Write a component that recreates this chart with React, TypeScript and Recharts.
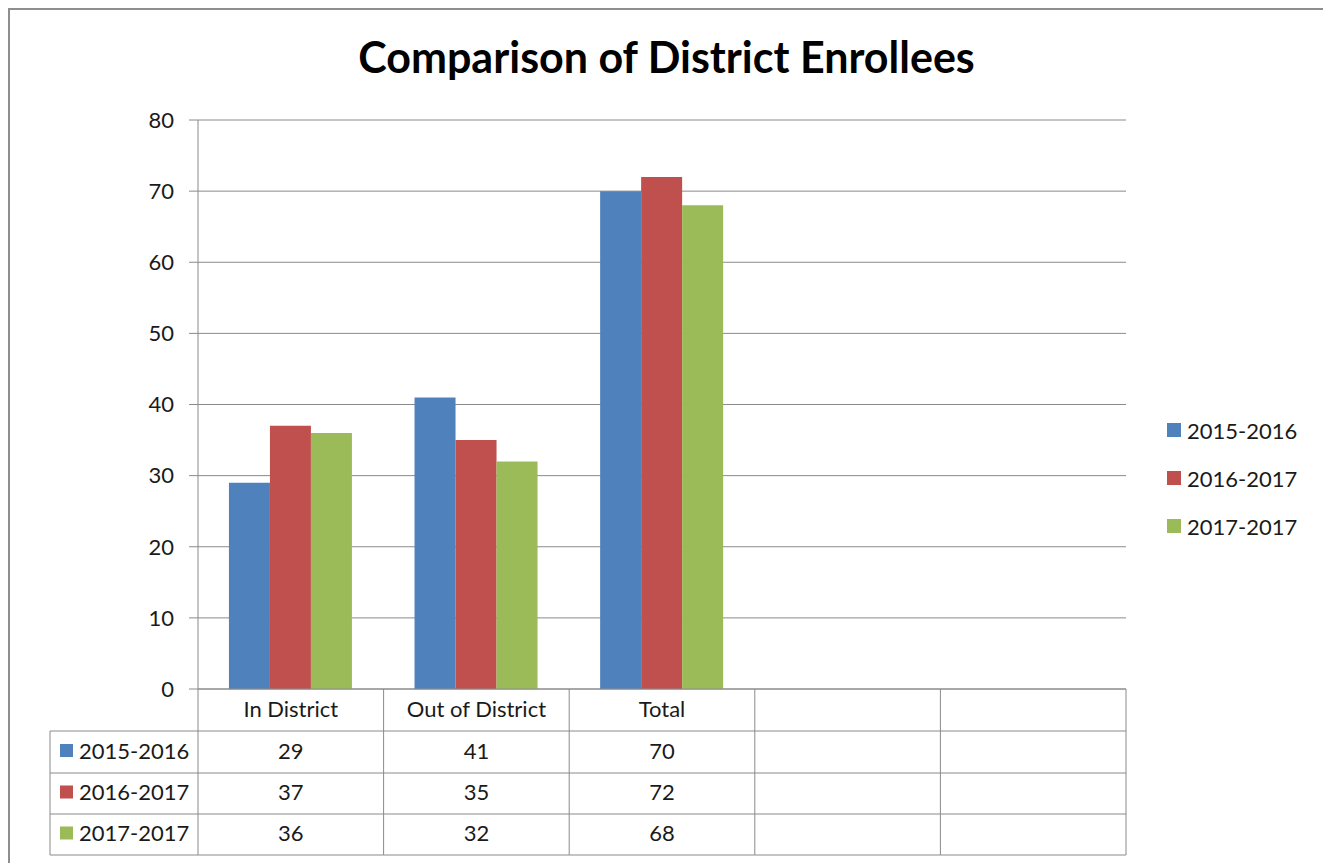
import React from 'react';
import { BarChart, Bar, XAxis, YAxis, CartesianGrid, Legend } from 'recharts';

const categories = ['In District', 'Out of District', 'Total', '', ''];
const seriesNames = ['2015-2016', '2016-2017', '2017-2017'];
const values2015 = [29, 41, 70, null, null];
const values2016 = [37, 35, 72, null, null];
const values2017 = [36, 32, 68, null, null];
const yTicks = [0, 10, 20, 30, 40, 50, 60, 70, 80];

const colors = ['#4F81BD', '#C0504D', '#9BBB59'];
const seriesValues = [values2015, values2016, values2017];
const gridColor = '#8a8a8a';
const font = 'Lato, "Open Sans", sans-serif';

const chartData = categories.map((name, i) => ({
    key: `c${i}`,
    s0: values2015[i],
    s1: values2016[i],
    s2: values2017[i],
}));

// row boundaries of the data table, measured from the axis line
const rowEdges = [0, 42, 84, 125, 166];
const headerColWidth = 148;

const TableTick = (props: any) => {
    const { x, y, index, payload } = props;
    const half = payload && payload.offset ? payload.offset : 92.8;
    const left = x - half;
    const right = x + half;
    const last = categories.length - 1;
    const textProps = { fontFamily: font, fontSize: 22, fill: '#1a1a1a', textAnchor: 'middle' as const, dominantBaseline: 'central' as const };
    return (
        <g>
            <line x1={left} y1={y} x2={left} y2={y + rowEdges[4]} stroke={gridColor} />
            {index === last && <line x1={right} y1={y} x2={right} y2={y + rowEdges[4]} stroke={gridColor} />}
            {rowEdges.slice(1).map((r) => (
                <line key={r} x1={left} y1={y + r} x2={right} y2={y + r} stroke={gridColor} />
            ))}
            <text x={x} y={y + rowEdges[1] / 2 - 2} {...textProps}>{categories[index]}</text>
            {seriesValues.map((vals, k) => (
                <text key={k} x={x} y={y + (rowEdges[k + 1] + rowEdges[k + 2]) / 2 - 2} {...textProps}>
                    {vals[index] == null ? '' : vals[index]}
                </text>
            ))}
            {index === 0 && (
                <g>
                    <line x1={left - headerColWidth} y1={y + rowEdges[1]} x2={left - headerColWidth} y2={y + rowEdges[4]} stroke={gridColor} />
                    {rowEdges.slice(1).map((r) => (
                        <line key={r} x1={left - headerColWidth} y1={y + r} x2={left} y2={y + r} stroke={gridColor} />
                    ))}
                    {seriesNames.map((name, k) => {
                        const cy = y + (rowEdges[k + 1] + rowEdges[k + 2]) / 2 - 2;
                        return (
                            <g key={name}>
                                <rect x={left - headerColWidth + 10} y={cy - 6} width={13} height={13} fill={colors[k]} />
                                <text x={left - headerColWidth + 29} y={cy} fontFamily={font} fontSize={22} fill="#1a1a1a" dominantBaseline="central">
                                    {name}
                                </text>
                            </g>
                        );
                    })}
                </g>
            )}
        </g>
    );
};

const LegendContent = () => (
    <div style={{ fontFamily: font, fontSize: 22, color: '#1a1a1a' }}>
        {seriesNames.map((name, k) => (
            <div key={name} style={{ display: 'flex', alignItems: 'center', height: 48 }}>
                <span style={{ display: 'inline-block', width: 14, height: 14, background: colors[k], marginRight: 6 }} />
                <span>{name}</span>
            </div>
        ))}
    </div>
);

const App: React.FC = () => {
    return (
        <div style={{ position: 'relative', width: 1313, height: 860, border: '2px solid #8e8e8e', fontFamily: font, background: '#fff' }}>
            <div style={{ position: 'absolute', top: 21, left: 0, width: '100%', textAlign: 'center', fontSize: 43, fontWeight: 700, color: '#000', lineHeight: '52px' }}>
                Comparison of District Enrollees
            </div>
            <BarChart
                width={1313}
                height={860}
                data={chartData}
                margin={{ top: 110, right: 197, left: 108, bottom: 11 }}
                barCategoryGap="16.67%"
                barGap={0}
            >
                <CartesianGrid vertical={false} stroke={gridColor} />
                <XAxis
                    dataKey="key"
                    height={170}
                    interval={0}
                    tickLine={false}
                    tickSize={0}
                    tickMargin={0}
                    axisLine={{ stroke: gridColor }}
                    tick={<TableTick />}
                />
                <YAxis
                    width={80}
                    domain={[0, 80]}
                    ticks={yTicks}
                    tickSize={9}
                    tickMargin={15}
                    axisLine={{ stroke: gridColor }}
                    tickLine={{ stroke: gridColor }}
                    tick={{ fontFamily: font, fontSize: 22, fill: '#1a1a1a' }}
                />
                <Legend
                    layout="vertical"
                    align="center"
                    verticalAlign="middle"
                    wrapperStyle={{ left: 1157, top: 396, width: 150 }}
                    content={<LegendContent />}
                />
                {seriesNames.map((name, k) => (
                    <Bar key={name} dataKey={`s${k}`} name={name} fill={colors[k]} isAnimationActive={false} />
                ))}
            </BarChart>
        </div>
    );
};

export default App;
